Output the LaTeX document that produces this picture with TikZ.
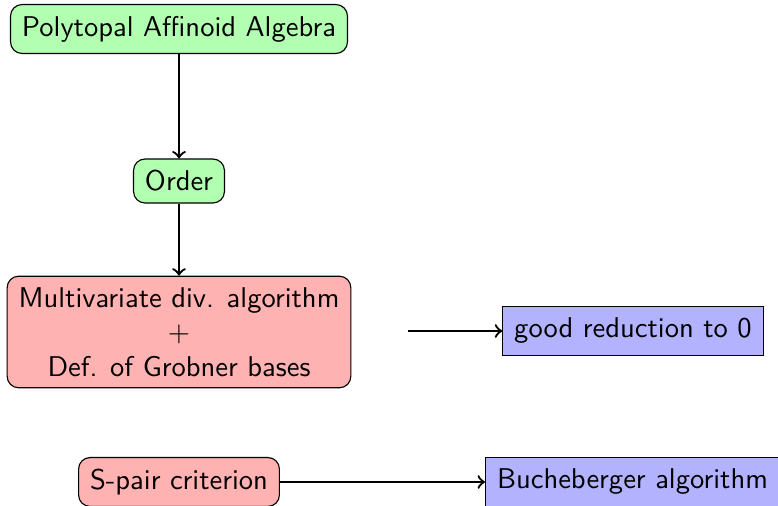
\documentclass[tikz,border=0pt]{standalone}
\usetikzlibrary{positioning}

\tikzset{
    box/.style={draw, inner sep=4pt},
    greenbox/.style={box, fill=green!30, rounded corners},
    redbox/.style={box, fill=red!30, rounded corners, align=center},
    bluebox/.style={box, fill=blue!30},
    link/.style={->, thick}
}

\begin{document}
\begin{tikzpicture}[x=0.35pt, y=-0.35pt, font=\sffamily]
        \useasboundingbox (0, 0) rectangle (778, 506);

        % Left column
        \node[greenbox] (algebra) at (179, 29) {Polytopal Affinoid Algebra};
        \node[greenbox] (order) at (179, 181) {Order};
        \node[redbox] (division) at (179, 332) {Multivariate div. algorithm\\$+$\\Def. of Grobner bases};
        \node[redbox] (spair) at (179, 482) {S-pair criterion};

        % Right column
        \node[bluebox] (reduction) at (633, 331) {good reduction to 0};
        \node[bluebox, anchor=west] (buchberger) at (485, 482) {Bucheberger algorithm};
        \coordinate (gap) at (408, 331);

        % Arrows
        \draw[link] (algebra) -- (order);
        \draw[link] (order) -- (division);
        \draw[link] (gap) -- (reduction);
        \draw[link] (spair) -- (buchberger);
    \end{tikzpicture}
\end{document}
